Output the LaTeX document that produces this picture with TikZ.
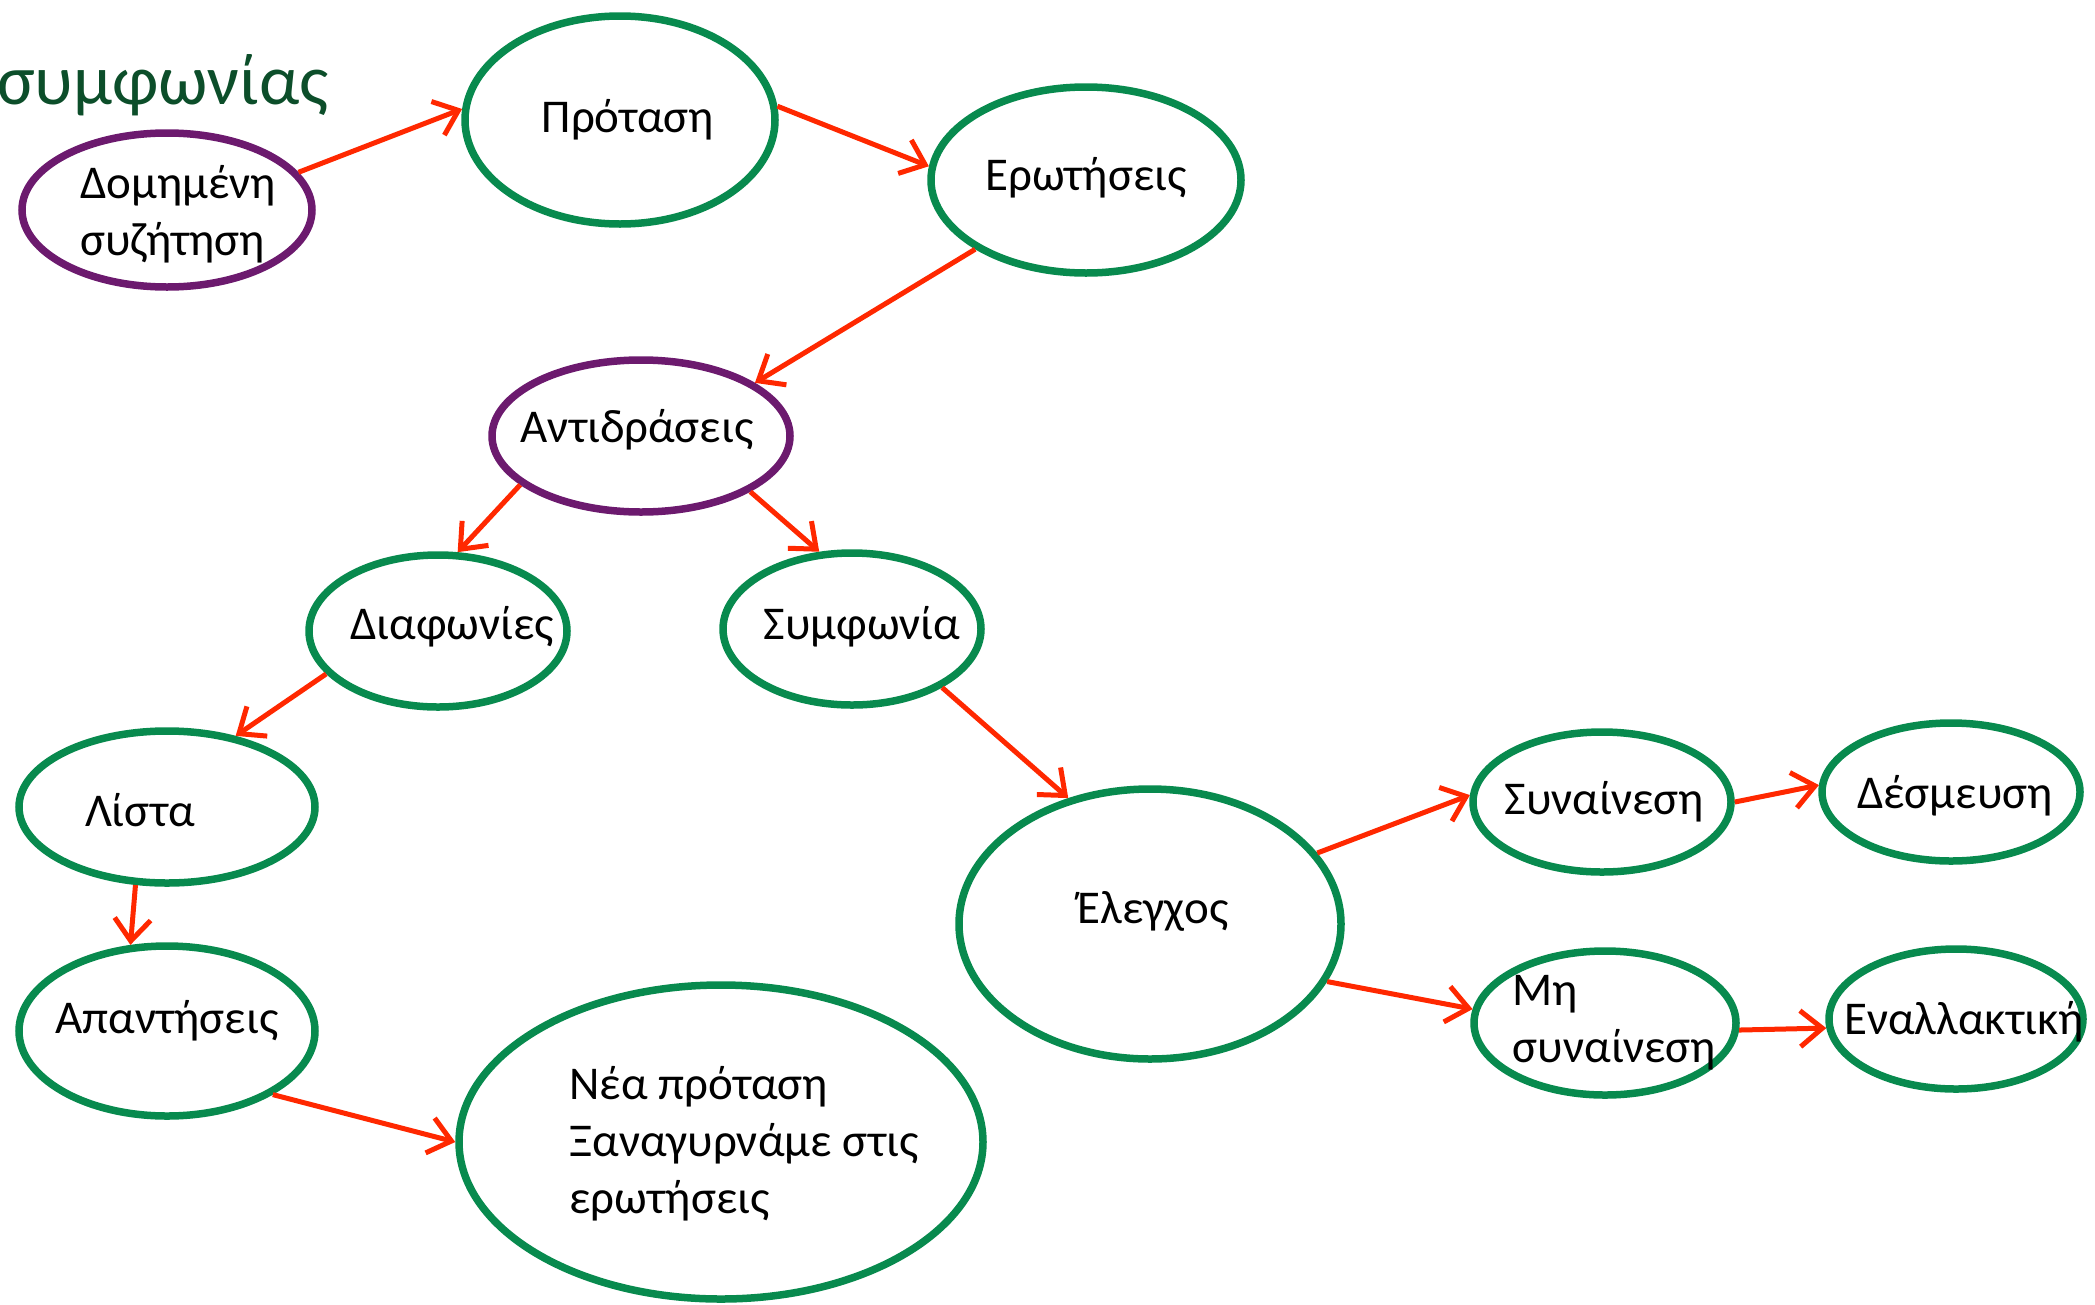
\documentclass[tikz,border=0pt]{standalone}
\usepackage{fontspec}
\setmainfont{Carlito}
\usetikzlibrary{shapes.geometric,arrows.meta,positioning}
\definecolor{bubblegreen}{RGB}{8,138,78}
\definecolor{bubblepurple}{RGB}{108,26,110}
\definecolor{arrowred}{RGB}{255,40,0}
\definecolor{titlegreen}{RGB}{12,78,42}

\begin{document}
\begin{tikzpicture}[x=1pt, y=-1pt,
% Bubble style
		bubble/.style={ellipse
							    , draw=bubblegreen
							    , line width=7.5pt
							    , inner sep=0pt},
		bubble2/.style={bubble
							    , draw=bubblepurple},
% Text style
		txt/.style={font=\fontsize{47}{57}\selectfont
							    , inner sep=0pt
							    , align=center},
		txt2/.style={txt
							    , align=left},
		headline/.style={font=\fontsize{71}{85}\selectfont
							    , text=titlegreen
							    , inner sep=0pt
							    , anchor=base west},
% Edges style
		flow/.style = {draw=arrowred
			       			, line width=5pt
			       			, ->
			       			, >={Straight Barb[length=22pt,width=36pt,line width=5pt]}}
	]
		\useasboundingbox (0,0) rectangle (2095,1304);
		\node [headline] (ttl) at (-3,104) {συμφωνίας};
%% Draw bubbles
		\node [bubble2, minimum width=290, minimum height=154] (dom) at (167,210) {};
		\node [bubble, minimum width=310, minimum height=208] (prot) at (620,120) {};
		\node [bubble, minimum width=310, minimum height=186] (erot) at (1086,180) {};
		\node [bubble2, minimum width=298, minimum height=152] (antid) at (641,436) {};
		\node [bubble, minimum width=258, minimum height=152] (diaf) at (438,631) {};
		\node [bubble, minimum width=258, minimum height=152] (symf) at (852,629) {};
		\node [bubble, minimum width=296, minimum height=152] (lista) at (167,807) {};
		\node [bubble, minimum width=296, minimum height=170] (apant) at (167,1031) {};
		\node [bubble, minimum width=524, minimum height=314] (nea) at (721,1142) {};
		\node [bubble, minimum width=382, minimum height=270] (eleg) at (1150,924) {};
		\node [bubble, minimum width=258, minimum height=140] (syn) at (1602,802) {};
		\node [bubble, minimum width=258, minimum height=138] (desm) at (1951,792) {};
		\node [bubble, minimum width=262, minimum height=144] (mhsyn) at (1605,1023) {};
		\node [bubble, minimum width=254, minimum height=140] (enal) at (1956,1019) {};
%% Texts
		\node [txt2] (domT) at (178,214) {Δομημένη\\συζήτηση};
		\node [txt] (protT) at (628,120) {Πρόταση};
		\node [txt] (erotT) at (1086,178) {Ερωτήσεις};
		\node [txt] (antidT) at (637,430) {Αντιδράσεις};
		\node [txt] (diafT) at (452,627) {Διαφωνίες};
		\node [txt] (symfT) at (862,627) {Συμφωνία};
		\node [txt] (listaT) at (140,810) {Λίστα};
		\node [txt] (apantT) at (167,1021) {Απαντήσεις};
		\node [txt2] (neaT) at (744,1144) {Νέα πρόταση\\Ξαναγυρνάμε στις\\ερωτήσεις};
		\node [txt] (elegT) at (1153,911) {Έλεγχος};
		\node [txt] (synT) at (1604,802) {Συναίνεση};
		\node [txt] (desmT) at (1955,796) {Δέσμευση};
		\node [txt2] (mhsynT) at (1614,1023) {Μη\\συναίνεση};
		\node [txt] (enalT) at (1964,1022) {Εναλλακτική};
%% Draw edges
		\begin{scope}[flow]
			\draw (dom.16) -- (prot.176);
			\draw (prot.5) -- (erot.175);
			\draw (erot.212) -- (antid.25);
			\draw (antid.202) -- (diaf.76);
			\draw (antid.333) -- (symf.113);
			\draw (diaf.201) -- (lista.46);
			\draw (symf.327) -- (eleg.123);
			\draw (lista.248) -- (apant.113);
			\draw (apant.329) -- (nea.180);
			\draw (eleg.23) -- (syn.177);
			\draw (syn.0) -- (desm.177);
			\draw (eleg.342) -- (mhsyn.174);
			\draw (mhsyn.357) -- (enal.184);
		\end{scope}
\end{tikzpicture}
\end{document}
